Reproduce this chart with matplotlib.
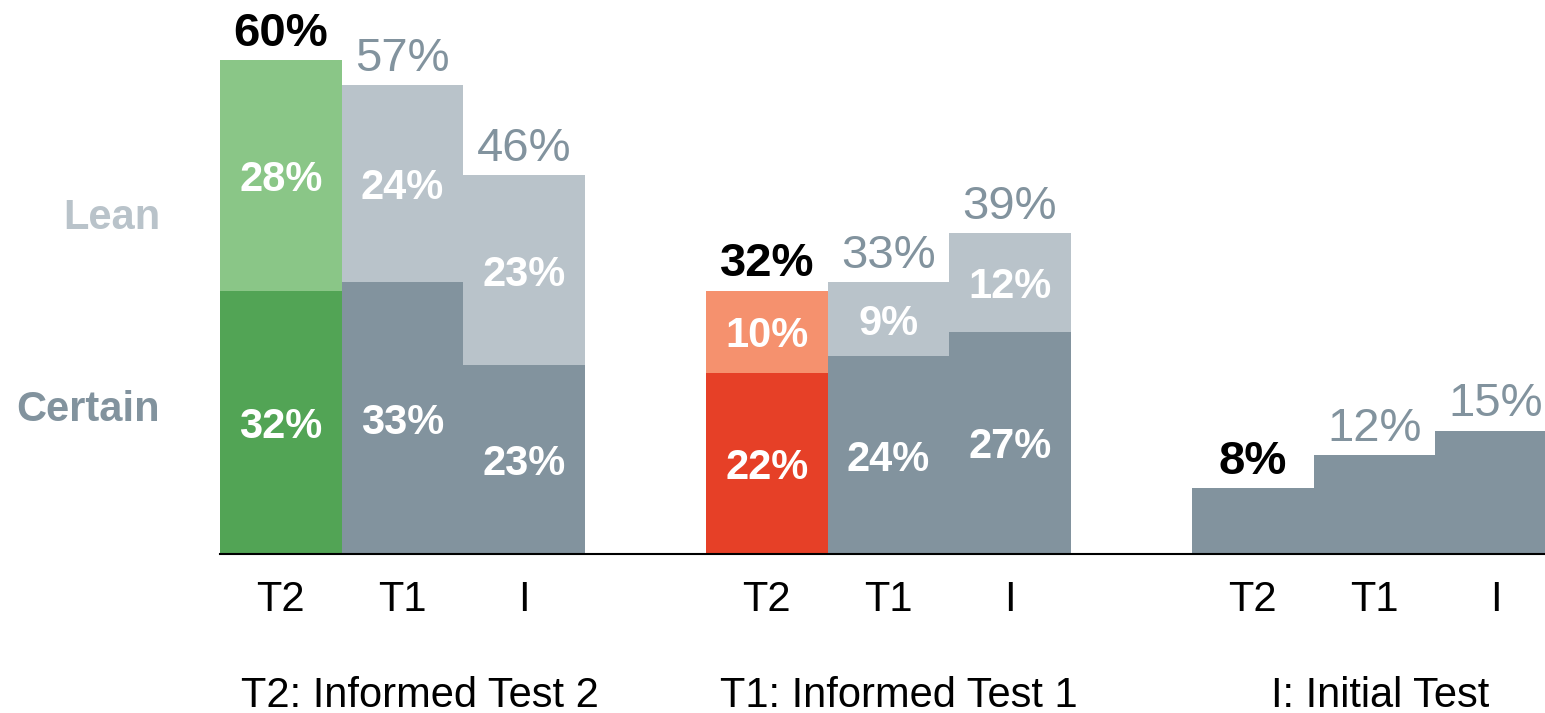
import numpy as np
import matplotlib.pyplot as plt

plt.rcParams['font.family'] = ['Liberation Sans', 'DejaVu Sans']

# Data
tests = ['T2', 'T1', 'I']
certain = [32, 33, 23, 22, 24, 27, 8, 12, 15]
lean = [28, 24, 23, 10, 9, 12, 0, 0, 0]
inner_labels = [True, True, True, True, True, True, False, False, False]
legend_texts = ['T2: Informed Test 2', 'T1: Informed Test 1', 'I: Initial Test']

# Colours
gray_dark = '#82939e'
gray_light = '#b9c3ca'
dark_cols = ['#52a455', gray_dark, gray_dark, '#e64027', gray_dark, gray_dark,
             gray_dark, gray_dark, gray_dark]
light_cols = ['#8ac687', gray_light, gray_light, '#f5916e', gray_light, gray_light,
              gray_light, gray_light, gray_light]

W, H = 1545, 713
fig = plt.figure(figsize=(W / 100, H / 100), dpi=100)
ax = fig.add_axes([220 / W, 159 / H, 1325 / W, 554 / H])

xpos = np.array([0, 1, 2, 4, 5, 6, 8, 9, 10])
certain = np.array(certain)
lean = np.array(lean)
total = certain + lean

ax.bar(xpos, certain, width=1, align='edge', color=dark_cols, linewidth=0)
ax.bar(xpos, lean, width=1, align='edge', bottom=certain, color=light_cols, linewidth=0)

for i, x in enumerate(xpos):
    cx = x + 0.5
    first = (i % 3 == 0)
    ax.annotate(f'{total[i]}%', (cx, total[i]), xytext=(0, 3), textcoords='offset points',
                ha='center', va='bottom', fontsize=34,
                color='black' if first else gray_dark,
                fontweight='bold' if first else 'normal')
    if inner_labels[i]:
        ax.text(cx, certain[i] / 2, f'{certain[i]}%', ha='center', va='center_baseline',
                fontsize=30, fontweight='bold', color='white')
        ax.text(cx, certain[i] + lean[i] / 2, f'{lean[i]}%', ha='center',
                va='center_baseline', fontsize=30, fontweight='bold', color='white')

ytr = ax.get_yaxis_transform()
ax.text(-0.045, 41.4, 'Lean', transform=ytr, ha='right', va='center_baseline',
        fontsize=30, fontweight='bold', color=gray_light)
ax.text(-0.045, 18.1, 'Certain', transform=ytr, ha='right', va='center_baseline',
        fontsize=30, fontweight='bold', color=gray_dark)

ax.set_xlim(0, 1325 / 121.5)
ax.set_ylim(0, 554 / 8.23)
ax.set_xticks(xpos + 0.5)
ax.set_xticklabels(tests * 3, fontsize=30)
ax.tick_params(axis='x', length=0, pad=19)
ax.set_yticks([])
for s in ['top', 'right', 'left']:
    ax.spines[s].set_visible(False)
ax.spines['bottom'].set_linewidth(1.5)

for txt, px in zip(legend_texts, [420, 899, 1380]):
    fig.text(px / W, 6 / H, txt, ha='center', va='baseline', fontsize=30)

fig.savefig('out.png', dpi=100)
